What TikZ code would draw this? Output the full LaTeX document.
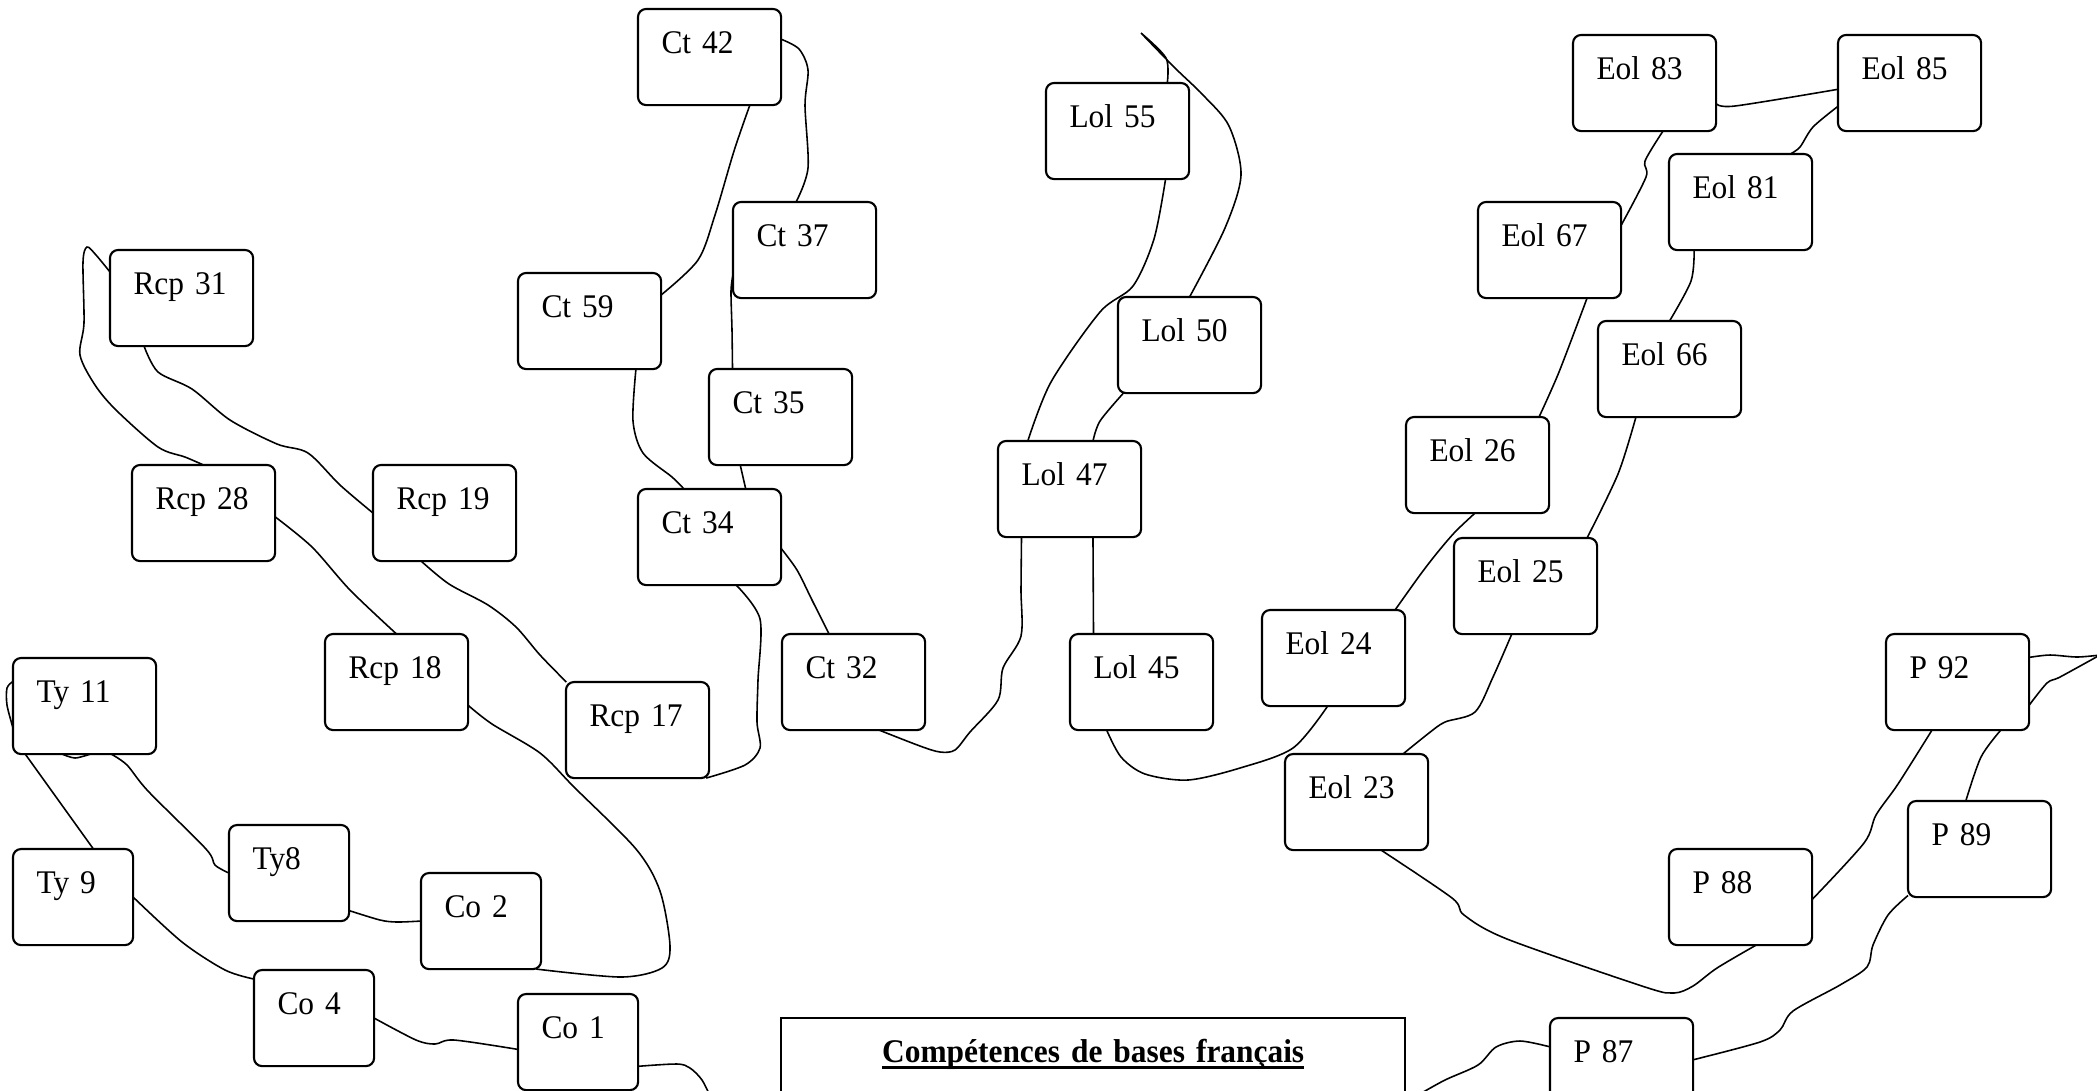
\documentclass[tikz,border=0pt]{standalone}
\usepackage{fontspec}
\setmainfont{Liberation Serif}[FakeStretch=0.95,WordSpace=0.75]
\usepackage{tikz}
\newcommand{\souligne}[1]{\setbox0\hbox{#1}\rlap{\rule[-1.9pt]{\wd0}{0.8pt}}\box0}

\begin{document}
\begin{tikzpicture}[x=0.01cm,y=-0.01cm,
	bloc/.style={draw,rounded corners=0.08cm,line width=0.6pt,anchor=north west,inner xsep=0.235cm,inner ysep=0pt,outer sep=0pt,text width=0.96cm,text height=0.44cm,text depth=0.52cm,align=left,font=\fontsize{9.4pt}{11pt}\selectfont,execute at begin node=\hbox\bgroup,execute at end node=\egroup},
	petit/.style={bloc,text width=0.73cm},
	titre/.style={draw,line width=0.6pt,anchor=north west,inner sep=0pt,outer sep=0pt,text width=6.24cm,text height=0.44cm,text depth=1cm,align=center,font=\fontsize{9.4pt}{11pt}\selectfont\bfseries},
	lien/.style={line width=0.45pt}]

	\useasboundingbox (0,0) rectangle (2097,1090);
	\clip (0,0) rectangle (2097,1090);

	\node[bloc] (ct42) at (638,9) {Ct 42};
	\node[bloc] (ct37) at (733,202) {Ct 37};
	\node[bloc] (ct59) at (518,273) {Ct 59};
	\node[bloc] (ct35) at (709,369) {Ct 35};
	\node[bloc] (ct34) at (638,489) {Ct 34};
	\node[bloc] (ct32) at (782,634) {Ct 32};

	\node[bloc] (rcp31) at (110,250) {Rcp 31};
	\node[bloc] (rcp28) at (132,465) {Rcp 28};
	\node[bloc] (rcp19) at (373,465) {Rcp 19};
	\node[bloc] (rcp18) at (325,634) {Rcp 18};
	\node[bloc] (rcp17) at (566,682) {Rcp 17};

	\node[bloc] (ty11) at (13,658) {Ty 11};
	\node[petit] (ty8) at (229,825) {Ty8};
	\node[petit] (ty9) at (13,849) {Ty 9};
	\node[petit] (co2) at (421,873) {Co 2};
	\node[petit] (co4) at (254,970) {Co 4};
	\node[petit] (co1) at (518,994) {Co 1};

	\node[bloc] (lol55) at (1046,83) {Lol 55};
	\node[bloc] (lol50) at (1118,297) {Lol 50};
	\node[bloc] (lol47) at (998,441) {Lol 47};
	\node[bloc] (lol45) at (1070,634) {Lol 45};

	\node[bloc] (eol83) at (1573,35) {Eol 83};
	\node[bloc] (eol85) at (1838,35) {Eol 85};
	\node[bloc] (eol81) at (1669,154) {Eol 81};
	\node[bloc] (eol67) at (1478,202) {Eol 67};
	\node[bloc] (eol66) at (1598,321) {Eol 66};
	\node[bloc] (eol26) at (1406,417) {Eol 26};
	\node[bloc] (eol25) at (1454,538) {Eol 25};
	\node[bloc] (eol24) at (1262,610) {Eol 24};
	\node[bloc] (eol23) at (1285,754) {Eol 23};

	\node[bloc] (p92) at (1886,634) {P 92};
	\node[bloc] (p89) at (1908,801) {P 89};
	\node[bloc] (p88) at (1669,849) {P 88};
	\node[bloc] (p87) at (1550,1018) {P 87};

	\node[titre] (titre) at (781,1018) {\souligne{Compétences de bases français}};

	\coordinate (bord) at (2100,655);
	\coordinate (basgauche) at (712,1100);
	\coordinate (basdroite) at (1418,1095);

	\draw[lien] plot[smooth] coordinates {(rcp31.160) (96,255) (87,247) (83,262) (84,323) (80,355) (95,385) (116,410) (158,447) (185,457) (rcp28.north)};
	\draw[lien] plot[smooth] coordinates {(rcp31.-128) (158,372) (192,389) (230,420) (277,444) (308,453) (340,485) (rcp19.west)};
	\draw[lien] plot[smooth] coordinates {(rcp28.-3) (312,547) (350,590) (rcp18.north)};
	\draw[lien] plot[smooth] coordinates {(rcp19.-116) (449,584) (488,605) (516,627) (540,655) (rcp17.146)};
	\draw[lien] plot[smooth] coordinates {(rcp18.-18) (492,724) (540,753) (574,787) (636,849) (660,891) (670,946) (662,968) (621,977) (co2.-41)};

	\draw[lien] plot[smooth] coordinates {(ct42.-50) (734,151) (715,215) (698,260) (ct59.20)};
	\draw[lien] plot[smooth] coordinates {(ct42.14) (799,49) (808,70) (805,105) (808,168) (ct37.100)};
	\draw[lien] plot[smooth] coordinates {(ct59.-46) (633,421) (643,453) (672,477) (ct34.118)};
	\draw[lien] plot[smooth] coordinates {(ct37.-161) (731,291) (732,330) (ct35.135)};
	\draw[lien] (ct35.-130) -- (ct34.53);
	\draw[lien] plot[smooth] coordinates {(ct34.-9) (797,570) (812,600) (ct32.117)};
	\draw[lien] plot[smooth] coordinates {(ct34.-61) (760,619) (758,680) (757,722) (760,748) (745,765) (rcp17.-35)};

	\draw[lien] plot[smooth] coordinates {(lol55.-45) (1154,239) (1133,286) (1100,312) (1051,382) (lol47.131)};
	\draw[lien] plot[smooth] coordinates {(lol55.44) (1166,58) (1141,33)} plot[smooth] coordinates {(1141,33) (1175,68) (1203,95) (1229,126) (1241,175) (1225,228) (lol50.north)};
	\draw[lien] plot[smooth] coordinates {(lol50.-144) (1100,421) (lol47.64)};
	\draw[lien] (lol47.-64) -- (lol45.135);
	\draw[lien] plot[smooth] coordinates {(lol47.-135) (1021,590) (1021,636) (1003,668) (998,700) (970,732) (955,750) (940,752) (920,746) (ct32.-62)};
	\draw[lien] plot[smooth] coordinates {(lol45.-126) (1121,757) (1145,774) (1188,780) (1240,768) (1293,748) (eol24.-97)};

	\draw[lien] plot[smooth] coordinates {(eol24.38) (1420,575) (1437,553) (1455,532) (eol26.-93)};
	\draw[lien] plot[smooth] coordinates {(eol26.38) (1559,372) (eol67.-52)};
	\draw[lien] plot[smooth] coordinates {(eol67.19) (1646,177) (1645,161) (eol83.-69)};
	\draw[lien] plot[smooth] coordinates {(eol83.-16) (1735,106) (eol85.-175)};
	\draw[lien] plot[smooth] coordinates {(eol85.-162) (1813,127) (1800,147) (eol81.44)};
	\draw[lien] plot[smooth] coordinates {(eol81.-134) (1691,281) (eol66.north)};
	\draw[lien] plot[smooth] coordinates {(eol66.-125) (1618,474) (eol25.38)};
	\draw[lien] plot[smooth] coordinates {(eol25.-106) (1493,677) (1475,712) (1445,722) (1429,733) (eol23.46)};
	\draw[lien] plot[smooth] coordinates {(eol23.-63) (1452,898) (1464,915) (1507,939) (1645,987) (1674,993) (1693,986) (1717,968) (p88.-72)};

	\draw[lien] plot[smooth] coordinates {(p88.-2) (1864,843) (1876,815) (1898,784) (p92.-118)};
	\draw[lien] plot[smooth] coordinates {(p92.-48) (1981,757) (p89.106)};
	\draw[lien] plot[smooth] coordinates {(p89.-147) (1888,915) (1873,945) (1867,967) (1840,985) (1793,1011) (1780,1030) (1760,1042) (p87.5)};
	\draw[lien] plot[smooth] coordinates {(p87.165) (1520,1041) (1496,1047) (1478,1065) (1445,1080) (basdroite)};
	\draw[lien] plot[smooth] coordinates {(p92.19) (2050,655) (2077,657) (bord)};
	\draw[lien] plot[smooth] coordinates {(p92.-18) (2047,683) (2060,677) (bord)};

	\draw[lien] (ty11.-141) -- (ty9.67);
	\draw[lien] plot[smooth] coordinates {(ty11.-61) (127,765) (148,791) (206,849) (215,865) (ty8.west)};
	\draw[lien] plot[smooth] coordinates {(ty11.161) (7,688) (7,705) (ty11.-163)};
	\draw[lien] plot[smooth] coordinates {(ty11.-115) (75,758) (ty11.-83)};
	\draw[lien] plot[smooth] coordinates {(ty8.-32) (380,920) (397,922) (co2.west)};
	\draw[lien] plot[smooth] coordinates {(ty9.east) (182,942) (225,970) (co4.147)};
	\draw[lien] plot[smooth] coordinates {(co4.east) (416,1040) (435,1044) (454,1040) (co1.-173)};
	\draw[lien] plot[smooth] coordinates {(co1.-22) (677,1064) (690,1068) (702,1080) (basgauche)};

\end{tikzpicture}
\end{document}
